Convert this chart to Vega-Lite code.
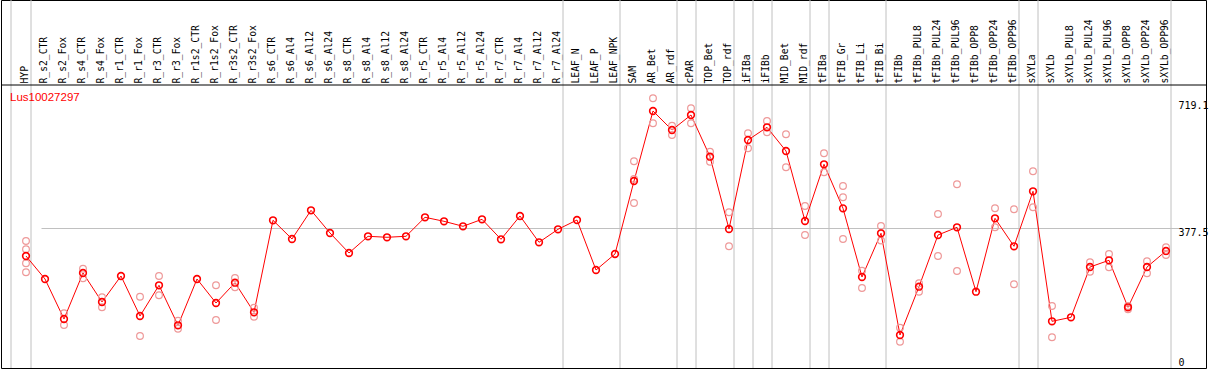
{
  "$schema": "https://vega.github.io/schema/vega-lite/v6.json",
  "width": 1205,
  "height": 368,
  "autosize": {"type": "none"},
  "padding": {"left": 1, "top": 0, "right": 3, "bottom": 2},
  "background": "white",
  "config": {"view": {"stroke": "black", "strokeWidth": 1}},
  "title": {"text": "Lus10027297", "orient": "top", "anchor": "start", "frame": "group", "offset": -113, "dx": 9, "baseline": "alphabetic", "color": "red", "font": "Liberation Sans", "fontSize": 11.5, "fontWeight": "normal"},
  "datasets": {
    "means": [
      {"tissue": "HYP", "value": 302.6},
      {"tissue": "R_s2_CTR", "value": 240.5},
      {"tissue": "R_s2_Fox", "value": 132.4},
      {"tissue": "R_s4_CTR", "value": 256.7},
      {"tissue": "R_s4_Fox", "value": 178.3},
      {"tissue": "R_r1_CTR", "value": 248.6},
      {"tissue": "R_r1_Fox", "value": 140.5},
      {"tissue": "R_r3_CTR", "value": 223.5},
      {"tissue": "R_r3_Fox", "value": 115.4},
      {"tissue": "R_r1s2_CTR", "value": 240.5},
      {"tissue": "R_r1s2_Fox", "value": 175.6},
      {"tissue": "R_r3s2_CTR", "value": 230.5},
      {"tissue": "R_r3s2_Fox", "value": 150.5},
      {"tissue": "R_s6_CTR", "value": 399.1},
      {"tissue": "R_s6_Al4", "value": 348.6},
      {"tissue": "R_s6_Al12", "value": 426.1},
      {"tissue": "R_s6_Al24", "value": 364.8},
      {"tissue": "R_s8_CTR", "value": 310.8},
      {"tissue": "R_s8_Al4", "value": 355.9},
      {"tissue": "R_s8_Al12", "value": 353.2},
      {"tissue": "R_s8_Al24", "value": 355.9},
      {"tissue": "R_r5_CTR", "value": 407.2},
      {"tissue": "R_r5_Al4", "value": 396.4},
      {"tissue": "R_r5_Al12", "value": 382.9},
      {"tissue": "R_r5_Al24", "value": 401.8},
      {"tissue": "R_r7_CTR", "value": 347.8},
      {"tissue": "R_r7_Al4", "value": 410.7},
      {"tissue": "R_r7_Al12", "value": 339.7},
      {"tissue": "R_r7_Al24", "value": 374.8},
      {"tissue": "LEAF_N", "value": 399.9},
      {"tissue": "LEAF_P", "value": 264.8},
      {"tissue": "LEAF_NPK", "value": 308.1},
      {"tissue": "SAM", "value": 505.3},
      {"tissue": "AR_Bet", "value": 694.5},
      {"tissue": "AR_rdf", "value": 643.1},
      {"tissue": "cPAR", "value": 683.7},
      {"tissue": "TOP_Bet", "value": 571.0},
      {"tissue": "TOP_rdf", "value": 375.6},
      {"tissue": "iFIBa", "value": 616.1},
      {"tissue": "iFIBb", "value": 650.4},
      {"tissue": "MID_Bet", "value": 586.4},
      {"tissue": "MID_rdf", "value": 397.2},
      {"tissue": "tFIBa", "value": 550.4},
      {"tissue": "tFIB_Gr", "value": 431.5},
      {"tissue": "tFIB_Li", "value": 245.9},
      {"tissue": "tFIB_Bi", "value": 364.0},
      {"tissue": "tFIBb", "value": 89.2},
      {"tissue": "tFIBb_PUL8", "value": 219.7},
      {"tissue": "tFIBb_PUL24", "value": 359.4},
      {"tissue": "tFIBb_PUL96", "value": 380.2},
      {"tissue": "tFIBb_OPP8", "value": 206.2},
      {"tissue": "tFIBb_OPP24", "value": 404.5},
      {"tissue": "tFIBb_OPP96", "value": 328.9},
      {"tissue": "sXYLa", "value": 477.5},
      {"tissue": "sXYLb", "value": 126.2},
      {"tissue": "sXYLb_PUL8", "value": 137.0},
      {"tissue": "sXYLb_PUL24", "value": 272.9},
      {"tissue": "sXYLb_PUL96", "value": 291.0},
      {"tissue": "sXYLb_OPP8", "value": 164.0},
      {"tissue": "sXYLb_OPP24", "value": 272.9},
      {"tissue": "sXYLb_OPP96", "value": 316.2}
    ],
    "reps": [
      {"tissue": "HYP", "value": 343.2}, {"tissue": "HYP", "value": 320.8}, {"tissue": "HYP", "value": 282.9}, {"tissue": "HYP", "value": 258.6},
      {"tissue": "R_s2_Fox", "value": 147.8}, {"tissue": "R_s2_Fox", "value": 116.2},
      {"tissue": "R_s4_CTR", "value": 268.3}, {"tissue": "R_s4_CTR", "value": 242.4},
      {"tissue": "R_s4_Fox", "value": 191.0}, {"tissue": "R_s4_Fox", "value": 164.0},
      {"tissue": "R_r1_Fox", "value": 192.7}, {"tissue": "R_r1_Fox", "value": 86.5},
      {"tissue": "R_r3_CTR", "value": 248.6}, {"tissue": "R_r3_CTR", "value": 196.4},
      {"tissue": "R_r3_Fox", "value": 127.8}, {"tissue": "R_r3_Fox", "value": 106.2},
      {"tissue": "R_r1s2_Fox", "value": 223.5}, {"tissue": "R_r1s2_Fox", "value": 129.7},
      {"tissue": "R_r3s2_CTR", "value": 243.2}, {"tissue": "R_r3s2_CTR", "value": 218.1},
      {"tissue": "R_r3s2_Fox", "value": 162.9}, {"tissue": "R_r3s2_Fox", "value": 138.6},
      {"tissue": "SAM", "value": 558.5}, {"tissue": "SAM", "value": 510.7}, {"tissue": "SAM", "value": 445.9},
      {"tissue": "AR_Bet", "value": 728.8}, {"tissue": "AR_Bet", "value": 661.2},
      {"tissue": "AR_rdf", "value": 654.7}, {"tissue": "AR_rdf", "value": 629.6},
      {"tissue": "cPAR", "value": 701.8}, {"tissue": "cPAR", "value": 661.2},
      {"tissue": "TOP_Bet", "value": 584.5}, {"tissue": "TOP_Bet", "value": 557.5},
      {"tissue": "TOP_rdf", "value": 420.7}, {"tissue": "TOP_rdf", "value": 328.9},
      {"tissue": "iFIBa", "value": 634.2}, {"tissue": "iFIBa", "value": 593.7},
      {"tissue": "iFIBb", "value": 667.4}, {"tissue": "iFIBb", "value": 636.9},
      {"tissue": "MID_Bet", "value": 631.5}, {"tissue": "MID_Bet", "value": 542.3},
      {"tissue": "MID_rdf", "value": 437.8}, {"tissue": "MID_rdf", "value": 359.4},
      {"tissue": "tFIBa", "value": 580.2}, {"tissue": "tFIBa", "value": 528.8},
      {"tissue": "tFIB_Gr", "value": 491.8}, {"tissue": "tFIB_Gr", "value": 461.3}, {"tissue": "tFIB_Gr", "value": 348.6},
      {"tissue": "tFIB_Li", "value": 262.9}, {"tissue": "tFIB_Li", "value": 216.2},
      {"tissue": "tFIB_Bi", "value": 383.7}, {"tissue": "tFIB_Bi", "value": 344.5},
      {"tissue": "tFIBb", "value": 108.9}, {"tissue": "tFIBb", "value": 71.1},
      {"tissue": "tFIBb_PUL8", "value": 228.9}, {"tissue": "tFIBb_PUL8", "value": 206.2},
      {"tissue": "tFIBb_PUL24", "value": 416.1}, {"tissue": "tFIBb_PUL24", "value": 302.6},
      {"tissue": "tFIBb_PUL96", "value": 496.4}, {"tissue": "tFIBb_PUL96", "value": 262.1},
      {"tissue": "tFIBb_OPP24", "value": 431.5}, {"tissue": "tFIBb_OPP24", "value": 380.2},
      {"tissue": "tFIBb_OPP96", "value": 428.8}, {"tissue": "tFIBb_OPP96", "value": 226.2},
      {"tissue": "sXYLa", "value": 531.5}, {"tissue": "sXYLa", "value": 434.2},
      {"tissue": "sXYLb", "value": 167.5}, {"tissue": "sXYLb", "value": 83.0},
      {"tissue": "sXYLb_PUL24", "value": 285.6}, {"tissue": "sXYLb_PUL24", "value": 260.2},
      {"tissue": "sXYLb_PUL96", "value": 308.1}, {"tissue": "sXYLb_PUL96", "value": 272.1},
      {"tissue": "sXYLb_OPP8", "value": 167.5}, {"tissue": "sXYLb_OPP8", "value": 158.6},
      {"tissue": "sXYLb_OPP24", "value": 288.3}, {"tissue": "sXYLb_OPP24", "value": 255.9},
      {"tissue": "sXYLb_OPP96", "value": 326.2}, {"tissue": "sXYLb_OPP96", "value": 305.3}
    ],
    "sepsAfter": [
      {"tissue": "HYP"}, {"tissue": "R_r7_Al24"}, {"tissue": "LEAF_NPK"}, {"tissue": "AR_rdf"}, {"tissue": "cPAR"},
      {"tissue": "TOP_rdf"}, {"tissue": "iFIBa"}, {"tissue": "iFIBb"}, {"tissue": "MID_rdf"}, {"tissue": "tFIBa"},
      {"tissue": "tFIB_Bi"}, {"tissue": "tFIBb_OPP96"}, {"tissue": "sXYLa"}, {"tissue": "sXYLb_OPP96"}
    ],
    "sepsBefore": [{"tissue": "HYP"}],
    "divider": [{"level": 764.7}]
  },
  "layer": [
    {
      "data": {"name": "sepsAfter"},
      "mark": {"type": "rule", "xOffset": 5, "color": "#c0c0c0", "strokeWidth": 1},
      "encoding": {
        "x": {
          "field": "tissue", "type": "nominal",
          "scale": {
            "type": "point",
            "domain": ["HYP","R_s2_CTR","R_s2_Fox","R_s4_CTR","R_s4_Fox","R_r1_CTR","R_r1_Fox","R_r3_CTR","R_r3_Fox","R_r1s2_CTR","R_r1s2_Fox","R_r3s2_CTR","R_r3s2_Fox","R_s6_CTR","R_s6_Al4","R_s6_Al12","R_s6_Al24","R_s8_CTR","R_s8_Al4","R_s8_Al12","R_s8_Al24","R_r5_CTR","R_r5_Al4","R_r5_Al12","R_r5_Al24","R_r7_CTR","R_r7_Al4","R_r7_Al12","R_r7_Al24","LEAF_N","LEAF_P","LEAF_NPK","SAM","AR_Bet","AR_rdf","cPAR","TOP_Bet","TOP_rdf","iFIBa","iFIBb","MID_Bet","MID_rdf","tFIBa","tFIB_Gr","tFIB_Li","tFIB_Bi","tFIBb","tFIBb_PUL8","tFIBb_PUL24","tFIBb_PUL96","tFIBb_OPP8","tFIBb_OPP24","tFIBb_OPP96","sXYLa","sXYLb","sXYLb_PUL8","sXYLb_PUL24","sXYLb_PUL96","sXYLb_OPP8","sXYLb_OPP24","sXYLb_OPP96"],
            "range": [25, 1165],
            "padding": 0
          },
          "axis": {
            "orient": "top", "offset": -85, "title": null, "ticks": false, "grid": false,
            "domain": false,
            "labelAngle": -90, "labelAlign": "left", "labelBaseline": "middle",
            "labelPadding": 2, "labelOffset": -1.5, "labelOverlap": false,
            "labelFont": "DejaVu Sans Mono", "labelFontSize": 9.7, "labelColor": "black"
          }
        }
      }
    },
    {
      "data": {"name": "sepsBefore"},
      "mark": {"type": "rule", "xOffset": -15, "color": "#c0c0c0", "strokeWidth": 1},
      "encoding": {"x": {"field": "tissue", "type": "nominal"}}
    },
    {
      "data": {"name": "divider"},
      "mark": {"type": "rule", "color": "black", "strokeWidth": 1},
      "encoding": {"y": {"field": "level", "type": "quantitative"}}
    },
    {
      "data": {"name": "means"},
      "mark": {"type": "line", "color": "red", "strokeWidth": 1},
      "encoding": {
        "x": {"field": "tissue", "type": "nominal"},
        "y": {
          "field": "value", "type": "quantitative",
          "scale": {"domain": [0, 994.4], "nice": false, "zero": true},
          "axis": {
            "orient": "right", "offset": -28, "title": null, "ticks": false, "domain": false,
            "values": [0, 377.5, 719.1],
            "labelExpr": "datum.value == 0 ? '0' : format(datum.value, '.1f')",
            "labelPadding": 0, "labelAlign": "left",
            "labelBaseline": {"condition": {"test": "datum.value == 0", "value": "bottom"}, "value": "top"},
            "labelOffset": -1, "labelFlush": false, "labelOverlap": false,
            "labelFont": "DejaVu Sans Mono", "labelFontSize": 10, "labelColor": "black",
            "grid": true, "gridColor": "#c0c0c0", "gridWidth": 1,
            "gridOpacity": {"condition": {"test": "datum.value == 377.5", "value": 1}, "value": 0}
          }
        },
        "order": {"value": null}
      }
    },
    {
      "data": {"name": "reps"},
      "mark": {"type": "point", "shape": "circle", "filled": false, "color": "#ee9999", "strokeWidth": 1.2, "size": 45, "opacity": 1},
      "encoding": {
        "x": {"field": "tissue", "type": "nominal"},
        "y": {"field": "value", "type": "quantitative"}
      }
    },
    {
      "data": {"name": "means"},
      "mark": {"type": "point", "shape": "circle", "filled": false, "color": "red", "strokeWidth": 1.6, "size": 45, "opacity": 1},
      "encoding": {
        "x": {"field": "tissue", "type": "nominal"},
        "y": {"field": "value", "type": "quantitative"}
      }
    }
  ]
}
